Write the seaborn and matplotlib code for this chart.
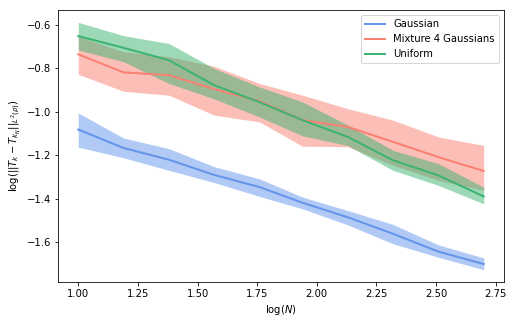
import pandas as pd
import matplotlib
matplotlib.use("Agg")
import matplotlib.pyplot as plt
import seaborn as sns

# x positions, log(N)
log_n = [1.00, 1.19, 1.38, 1.57, 1.76, 1.94, 2.13, 2.32, 2.51, 2.70]

# Gaussian
gauss_mean = [-1.081, -1.166, -1.220, -1.290, -1.346, -1.418, -1.485, -1.561, -1.643, -1.700]
gauss_lo = [-1.162, -1.211, -1.269, -1.325, -1.389, -1.446, -1.520, -1.607, -1.669, -1.726]
gauss_hi = [-1.005, -1.120, -1.169, -1.252, -1.308, -1.392, -1.454, -1.518, -1.612, -1.672]

# Mixture 4 Gaussians
mix_mean = [-0.735, -0.818, -0.831, -0.895, -0.950, -1.038, -1.069, -1.138, -1.208, -1.272]
mix_lo = [-0.827, -0.905, -0.923, -1.015, -1.046, -1.158, -1.160, -1.246, -1.315, -1.361]
mix_hi = [-0.654, -0.723, -0.746, -0.790, -0.869, -0.923, -0.985, -1.038, -1.115, -1.154]

# Uniform
unif_mean = [-0.651, -0.705, -0.762, -0.877, -0.955, -1.038, -1.115, -1.223, -1.292, -1.389]
unif_lo = [-0.715, -0.769, -0.869, -0.940, -1.023, -1.110, -1.155, -1.269, -1.338, -1.423]
unif_hi = [-0.588, -0.649, -0.685, -0.800, -0.885, -0.954, -1.060, -1.177, -1.238, -1.346]

names = ["Gaussian", "Mixture 4 Gaussians", "Uniform"]
colors = {"Gaussian": "cornflowerblue", "Mixture 4 Gaussians": "salmon", "Uniform": "mediumseagreen"}

series = {
    "Gaussian": (gauss_mean, gauss_lo, gauss_hi),
    "Mixture 4 Gaussians": (mix_mean, mix_lo, mix_hi),
    "Uniform": (unif_mean, unif_lo, unif_hi),
}

rows = []
for name in names:
    m, lo, hi = series[name]
    for x, a, b, c in zip(log_n, m, lo, hi):
        rows.append({"logN": x, "err": a, "lo": b, "hi": c, "dist": name})
df = pd.DataFrame(rows)

plt.rcParams["font.family"] = ["DejaVu Sans"]
fig, ax = plt.subplots(figsize=(515 / 72, 324 / 72), dpi=72)

# line then band, one series at a time
for name in names:
    d = df[df["dist"] == name]
    sns.lineplot(data=d, x="logN", y="err", color=colors[name], linewidth=2,
                 label=name, ax=ax)
    ax.fill_between(d["logN"], d["lo"], d["hi"], color=colors[name], alpha=0.5, linewidth=0)

ax.set_xlabel("log($N$)")
ax.set_ylabel("log($||T_k - T_{k_N}||_{L^2(\\rho)}$)")
ax.legend(loc="upper right")

fig.subplots_adjust(left=0.1126, right=0.9786, top=0.969, bottom=0.1296)
fig.savefig("out.png", dpi=72)
